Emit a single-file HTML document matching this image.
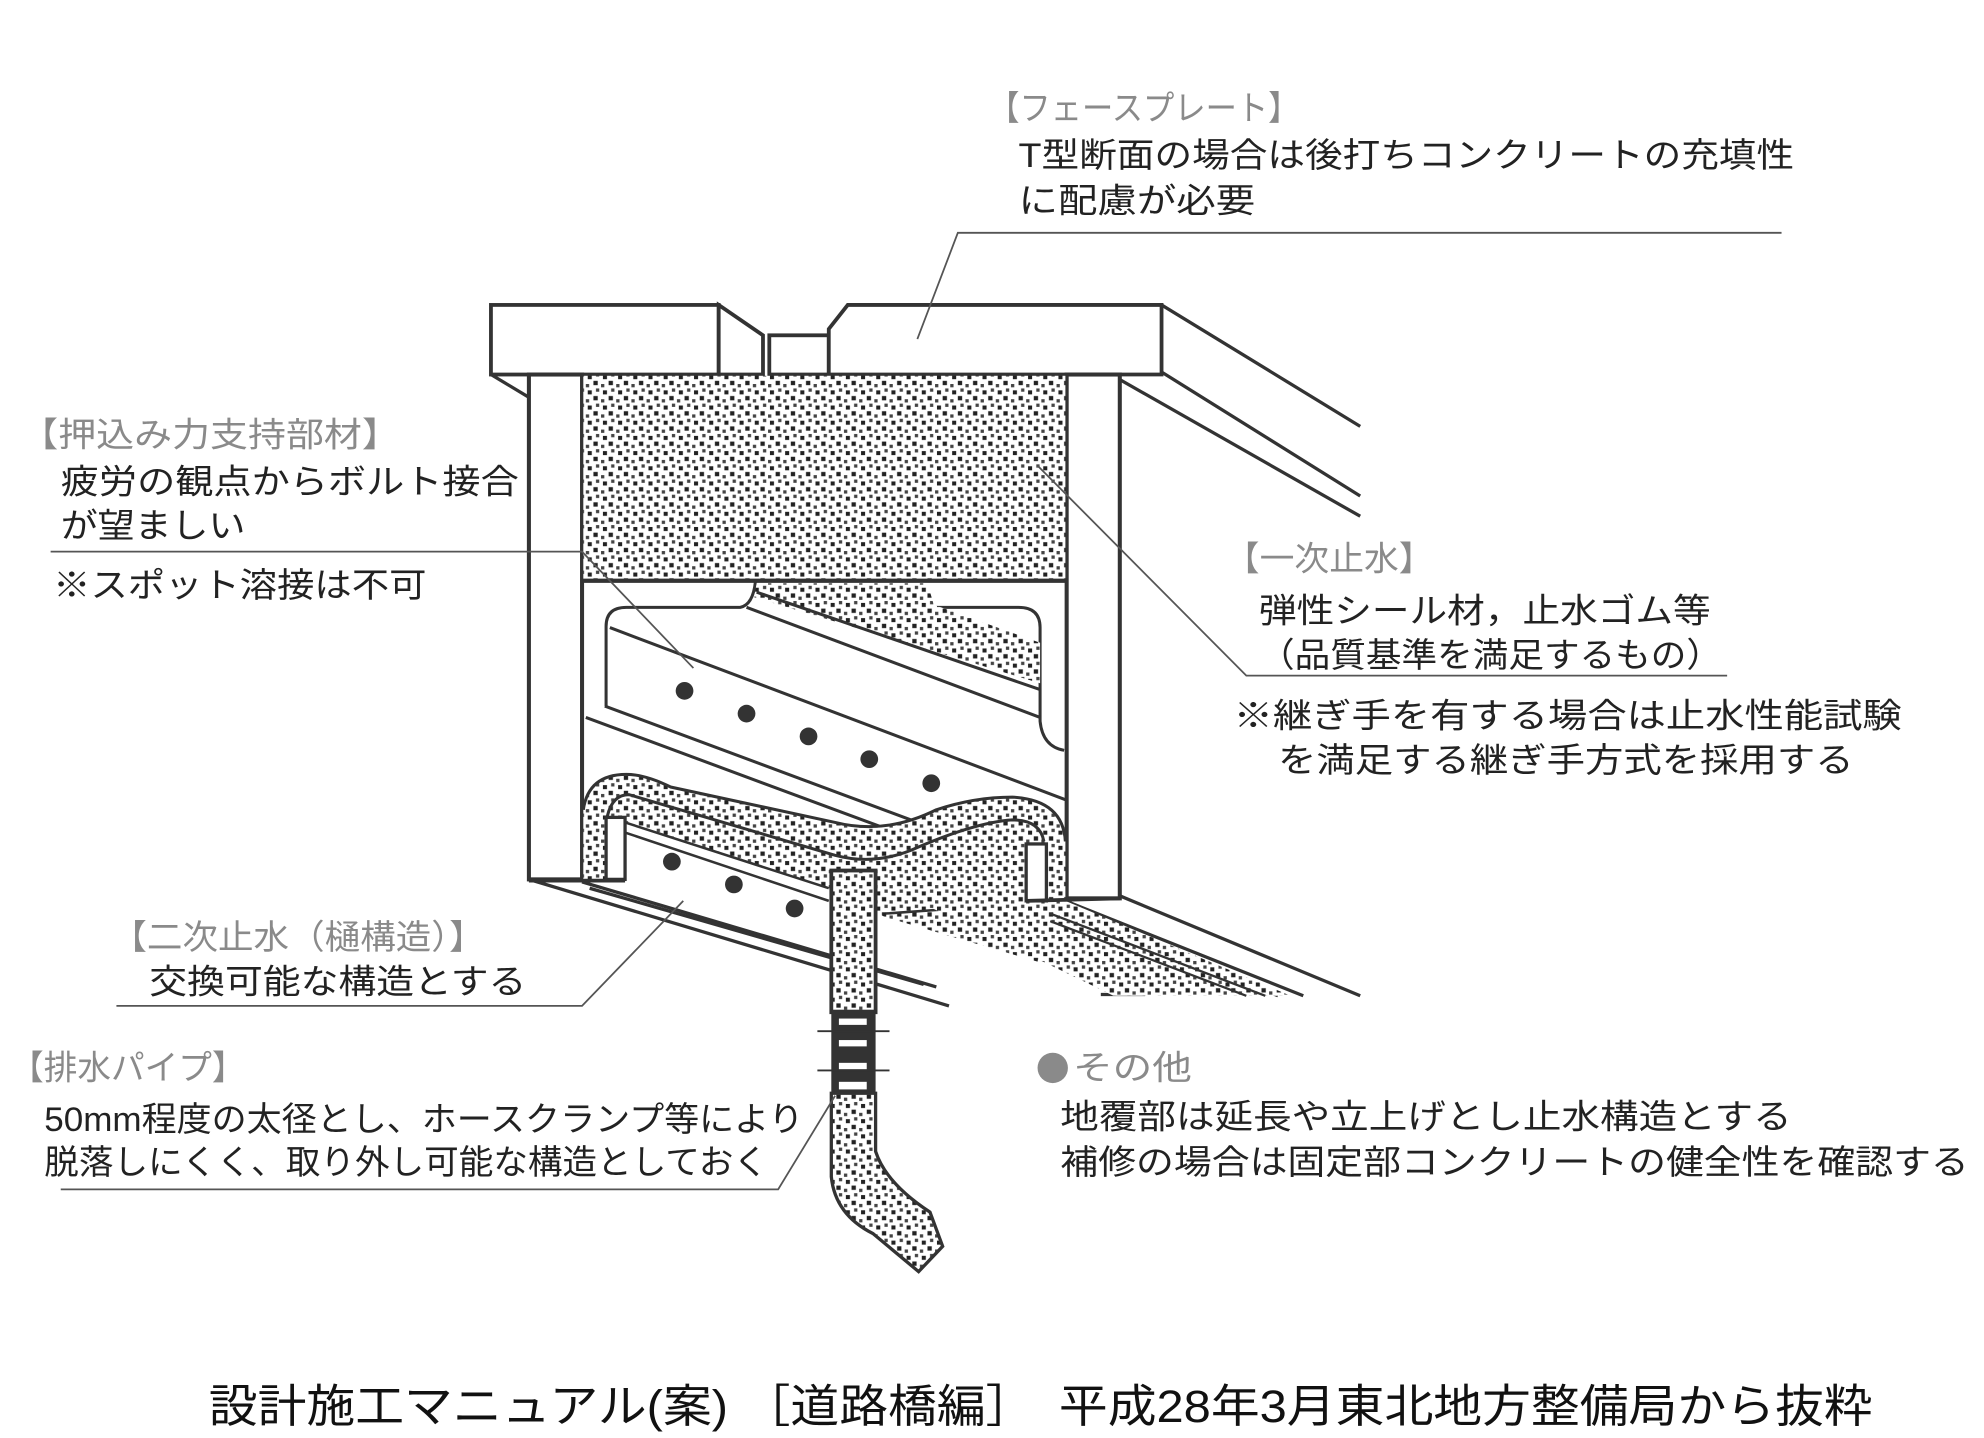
<!DOCTYPE html>
<html><head><meta charset="utf-8">
<style>
html,body{margin:0;padding:0;background:#fff;}
svg{display:block;}
text{font-family:"Liberation Sans","Noto Sans CJK JP",sans-serif;}
</style></head>
<body>
<svg width="1984" height="1438" viewBox="0 0 1568 1136.5" xmlns="http://www.w3.org/2000/svg">
<defs>
<pattern id="dots" width="12" height="12" patternUnits="userSpaceOnUse">
<rect width="12" height="12" fill="#fff"/>
<rect x="1" y="1" width="3.4" height="3.4" fill="#222"/>
<rect x="7" y="3.5" width="2.6" height="2.6" fill="#444"/>
<rect x="3" y="7" width="2.6" height="2.6" fill="#444"/>
<rect x="8.5" y="8.5" width="3.2" height="3.2" fill="#222"/>
</pattern>
</defs>

<g fill="none" stroke="#333" stroke-width="2.6" stroke-linejoin="round">
<line x1="918" y1="241" x2="1075" y2="337"/>
<line x1="918" y1="294" x2="1075" y2="392"/>
<line x1="885" y1="300" x2="1075" y2="408"/>
<line x1="388" y1="296" x2="418" y2="314"/>
<line x1="418" y1="695" x2="750" y2="795"/>
<line x1="460" y1="697" x2="740" y2="780"/>
<line x1="466" y1="702" x2="730" y2="778"/>
<line x1="885" y1="708" x2="1075" y2="787"/>
<line x1="842" y1="712" x2="1030" y2="787"/>
<line x1="830" y1="716" x2="1010" y2="787"/>
<line x1="870" y1="786" x2="905" y2="786"/>
</g>

<g fill="#fff" stroke="#333" stroke-width="3">
<rect x="388" y="241" width="180" height="55"/>
<path d="M568,241 L603,265 L603,296 L568,296 Z"/>
<rect x="608" y="265" width="47" height="31"/>
<path d="M655,296 L655,260 L670,241 L918,241 L918,296 Z"/>
</g>

<g fill="#fff" stroke="#333" stroke-width="3.2">
<rect x="418" y="296" width="42" height="399"/>
<rect x="843" y="296" width="42" height="414"/>
</g>

<rect x="461" y="297" width="381" height="161" fill="url(#dots)"/>
<line x1="460" y1="459" x2="843" y2="459" stroke="#333" stroke-width="3.4"/>

<g fill="none" stroke="#333" stroke-width="2.4">
<path d="M479,558 L479,495 Q479,480 495,480 L585,480 Q595,478 597,460"/>
<path d="M732,480 L805,480 Q822,480 822,496 L822,570 Q824,590 841,593"/>
</g>
<polygon points="598,461 733,461 738,478 822,508 822,540 596,472" fill="url(#dots)"/>
<g fill="none" stroke="#333" stroke-width="2.4">
<line x1="590" y1="480" x2="822" y2="567"/>
<line x1="598" y1="468" x2="822" y2="545"/>
<line x1="482" y1="496" x2="842" y2="632"/>
<line x1="478" y1="558" x2="720" y2="648"/>
<line x1="463" y1="567" x2="695" y2="653"/>
</g>
<g fill="#333">
<circle cx="541" cy="546" r="7"/><circle cx="590" cy="564" r="7"/><circle cx="639" cy="582" r="7"/><circle cx="687" cy="600" r="7"/><circle cx="736" cy="619" r="7"/>
<circle cx="531" cy="681" r="7"/><circle cx="580" cy="699" r="7"/><circle cx="628" cy="718" r="7"/>
</g>

<path d="M461,695 L461,640 Q465,612 495,612 Q510,612 530,622 L660,650 Q700,660 740,640 Q770,630 800,630 Q840,632 842,665 L842,712 L830,716 L820,760 L700,725 L650,700 L494,650 L494,695 Z" fill="url(#dots)" stroke="none"/>
<path d="M480,695 L480,645 Q484,628 497,628 L660,676 Q690,684 720,672 Q770,650 800,648 Q822,648 825,665" fill="none" stroke="#333" stroke-width="2.4"/>
<path d="M461,640 Q465,612 495,612 Q510,612 530,622 L660,650 Q700,660 740,640 Q770,630 800,630 Q840,632 842,665" fill="none" stroke="#333" stroke-width="2.4"/>
<path d="M494,650 L655,702 M494,658 L655,712 M700,722 L842,712" fill="none" stroke="#333" stroke-width="2"/>
<polygon points="700,700 842,712 1020,787 880,787" fill="url(#dots)"/>
<g fill="none" stroke="#333" stroke-width="1.8">
<line x1="830" y1="722" x2="1000" y2="787"/>
<line x1="830" y1="728" x2="985" y2="787"/>
</g>
<g fill="#fff" stroke="#333" stroke-width="2.6">
<rect x="479" y="646" width="15" height="49"/>
<rect x="811" y="667" width="16" height="45"/>
</g>
<line x1="418" y1="696" x2="494" y2="696" stroke="#333" stroke-width="3"/>
<line x1="811" y1="712" x2="885" y2="710" stroke="#333" stroke-width="3"/>

<rect x="657" y="688" width="35" height="112" fill="url(#dots)" stroke="#333" stroke-width="3"/>
<rect x="657" y="798" width="35" height="66" fill="#333"/>
<rect x="663" y="805" width="22" height="5" fill="#fff"/><rect x="663" y="822" width="22" height="5" fill="#fff"/>
<rect x="663" y="840" width="22" height="5" fill="#fff"/><rect x="663" y="855" width="22" height="6" fill="#fff"/>
<line x1="646" y1="815" x2="703" y2="815" stroke="#333" stroke-width="1.5"/>
<line x1="646" y1="846" x2="703" y2="846" stroke="#333" stroke-width="1.5"/>
<path d="M657,864 L657,930 Q660,960 690,975 L726,1005 L745,985 L735,958 Q700,935 692,910 L692,864 Z" fill="url(#dots)" stroke="#333" stroke-width="2.6"/>

<g fill="none" stroke="#555" stroke-width="1.4">
<polyline points="1408,184 757,184 725,268"/>
<polyline points="40,436 460,436 548,528"/>
<polyline points="1365,534 985,534 820,368"/>
<polyline points="92,795 460,795 540,712"/>
<polyline points="48,940 615,940 660,866"/>
</g>

<g font-size="27" fill="#8a8a8a">
<text x="781" y="95" textLength="246" lengthAdjust="spacingAndGlyphs">【フェースプレート】</text>
<text x="16" y="353" textLength="300" lengthAdjust="spacingAndGlyphs">【押込み力支持部材】</text>
<text x="968" y="451" textLength="165" lengthAdjust="spacingAndGlyphs">【一次止水】</text>
<text x="88" y="750" textLength="295" lengthAdjust="spacingAndGlyphs">【二次止水（樋構造）】</text>
<text x="8" y="853" textLength="186" lengthAdjust="spacingAndGlyphs">【排水パイプ】</text>
<text x="848" y="853" textLength="94" lengthAdjust="spacingAndGlyphs">その他</text>
</g>
<circle cx="832" cy="844" r="12" fill="#8a8a8a"/>
<g font-size="27" fill="#222">
<text x="805" y="132" textLength="613" lengthAdjust="spacingAndGlyphs">T型断面の場合は後打ちコンクリートの充填性</text>
<text x="805" y="168" textLength="187" lengthAdjust="spacingAndGlyphs">に配慮が必要</text>
<text x="48" y="390" textLength="362" lengthAdjust="spacingAndGlyphs">疲労の観点からボルト接合</text>
<text x="48" y="425" textLength="146" lengthAdjust="spacingAndGlyphs">が望ましい</text>
<text x="42" y="472" textLength="295" lengthAdjust="spacingAndGlyphs">※スポット溶接は不可</text>
<text x="995" y="492" textLength="357" lengthAdjust="spacingAndGlyphs">弾性シール材，止水ゴム等</text>
<text x="995" y="527" textLength="366" lengthAdjust="spacingAndGlyphs">（品質基準を満足するもの）</text>
<text x="975" y="575" textLength="528" lengthAdjust="spacingAndGlyphs">※継ぎ手を有する場合は止水性能試験</text>
<text x="1010" y="610" textLength="455" lengthAdjust="spacingAndGlyphs">を満足する継ぎ手方式を採用する</text>
<text x="118" y="785" textLength="298" lengthAdjust="spacingAndGlyphs">交換可能な構造とする</text>
<text x="35" y="894" textLength="600" lengthAdjust="spacingAndGlyphs">50mm程度の太径とし、ホースクランプ等により</text>
<text x="35" y="928" textLength="572" lengthAdjust="spacingAndGlyphs">脱落しにくく、取り外し可能な構造としておく</text>
<text x="838" y="892" textLength="578" lengthAdjust="spacingAndGlyphs">地覆部は延長や立上げとし止水構造とする</text>
<text x="838" y="928" textLength="718" lengthAdjust="spacingAndGlyphs">補修の場合は固定部コンクリートの健全性を確認する</text>
</g>
<text x="165" y="1124" font-size="36" fill="#111" textLength="1315" lengthAdjust="spacingAndGlyphs">設計施工マニュアル(案) ［道路橋編］　平成28年3月東北地方整備局から抜粋</text>
</svg>
</body></html>
